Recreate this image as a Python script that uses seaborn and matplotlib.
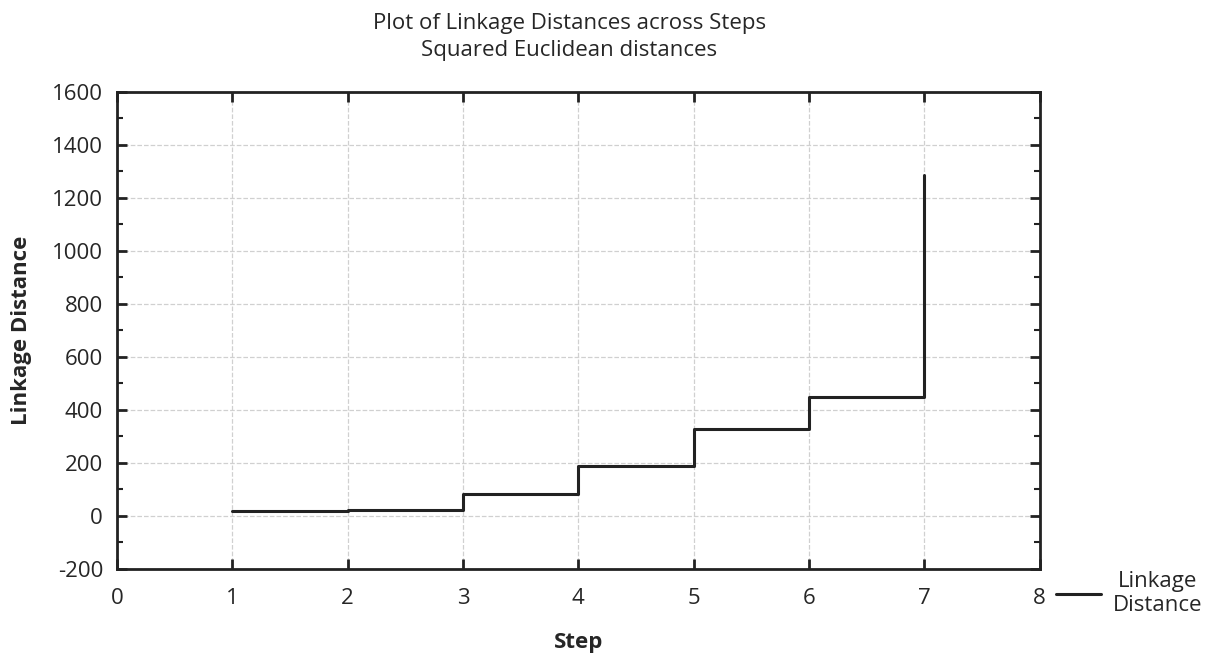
import numpy as np
import pandas as pd
import matplotlib.pyplot as plt
import seaborn as sns
from matplotlib.ticker import MultipleLocator

# data
steps = [1, 2, 3, 4, 5, 6, 7]
linkage = [18, 22, 82, 188, 328, 448, 1287]

df = pd.DataFrame({'Step': steps, 'Linkage Distance': linkage})

sns.set_style('white')
plt.rcParams['font.family'] = ['Open Sans', 'DejaVu Sans']
plt.rcParams['axes.unicode_minus'] = False

fig = plt.figure(figsize=(12.06, 6.57), dpi=100)
ax = fig.add_axes([0.097, 0.134, 0.765, 0.726])

sns.lineplot(data=df, x='Step', y='Linkage Distance', drawstyle='steps-post',
             color='#222222', linewidth=2.2, label='Linkage\nDistance', ax=ax)

ax.set_xlim(0, 8)
ax.set_ylim(-200, 1600)
ax.xaxis.set_major_locator(MultipleLocator(1))
ax.yaxis.set_major_locator(MultipleLocator(200))
ax.yaxis.set_minor_locator(MultipleLocator(100))

ax.grid(True, which='major', color='#d0d0d0', linestyle='--', linewidth=0.9)
for s in ax.spines.values():
    s.set_visible(True)
    s.set_color('#222222')
    s.set_linewidth(2)

ax.tick_params(which='both', direction='in', top=True, right=True,
               bottom=True, left=True, color='#222222', labelsize=16)
ax.tick_params(which='major', length=7, width=2)
ax.tick_params(which='minor', length=4, width=1.5)
ax.tick_params(axis='x', pad=14)
ax.tick_params(axis='y', pad=10)

ax.set_xlabel('Step', fontsize=16, fontweight='bold')
ax.xaxis.set_label_coords(0.5, -0.133)
ax.set_ylabel('Linkage Distance', fontsize=16, fontweight='bold')
ax.yaxis.set_label_coords(-0.092, 0.5)

# two-line title, centred a little left of the axes middle as in the original
fig.text(0.472, 1 - 37 / 657,
         'Plot of Linkage Distances across Steps\nSquared Euclidean distances',
         ha='center', va='center', fontsize=16, linespacing=1.35)

leg = ax.legend(loc='center left', bbox_to_anchor=(1.018, -0.052), frameon=False,
                fontsize=16, handlelength=2.0, handletextpad=0.55,
                borderaxespad=0, borderpad=0)
for t in leg.get_texts():
    t.set_multialignment('center')

fig.savefig('out.png', dpi=100)
